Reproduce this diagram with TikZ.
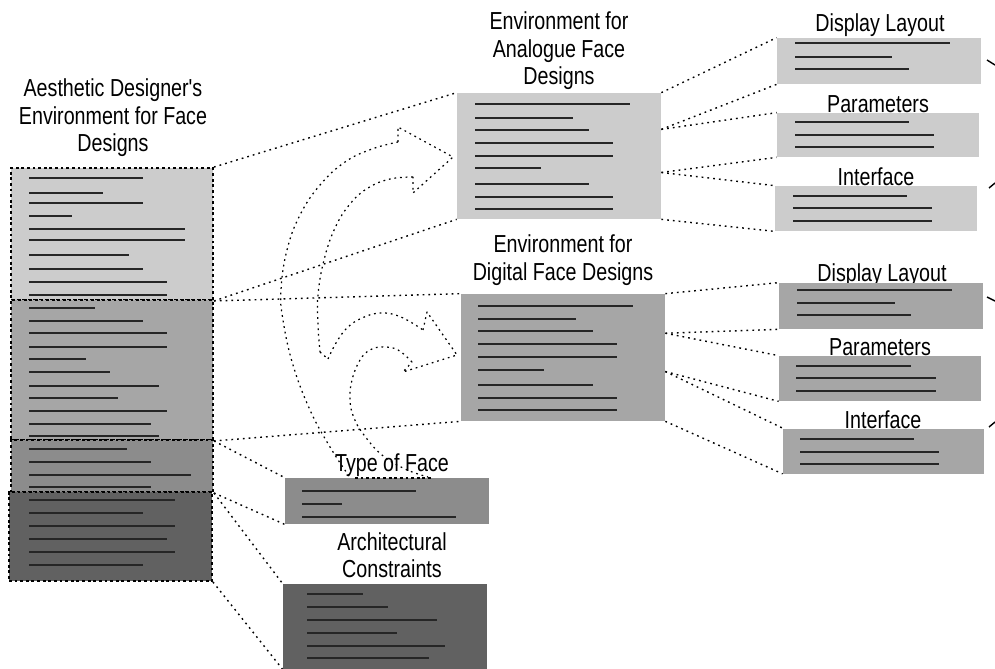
\documentclass[tikz,border=0pt]{standalone}
\usepackage{fontspec}
\setmainfont[FakeStretch=0.8]{Liberation Sans}
\newfontfamily\titlefont[FakeStretch=0.8]{Liberation Sans}
\usetikzlibrary{backgrounds,calc}
\definecolor{xlight}{RGB}{204,204,204}
\definecolor{xmid}{RGB}{166,166,166}
\definecolor{xdark}{RGB}{140,140,140}
\definecolor{xdeep}{RGB}{97,97,97}
\tikzset{
  panel/.style 2 args={rectangle, inner sep=0pt, minimum width=#1*0.02cm, minimum height=#2*0.02cm},
  sect/.style={draw, line width=1.1pt, dash pattern=on 1.6pt off 1.6pt},
  ttl/.style={align=center, inner sep=0pt, font=\titlefont\fontsize{14pt}{15.6pt}\selectfont},
  txt/.style={line width=0.9pt, black!85},
  link/.style={line width=0.8pt, dash pattern=on 1pt off 2.3pt},
  swoosh/.style={line width=0.7pt, dash pattern=on 1pt off 2.2pt, line join=round},
  base/.style={line width=1.1pt, dash pattern=on 1.6pt off 1.6pt},
}
\begin{document}
\begin{tikzpicture}[x=0.02cm, y=-0.02cm]
\useasboundingbox (0,0) rectangle (995,669);
% aesthetic designer's environment
\node[ttl] at (113,118) (lhead) {Aesthetic Designer's\\Environment for Face\\Designs};
\node[panel={202}{132}, sect, fill=xlight] at (112,234) (lef1) {};
\node[panel={202}{140}, sect, fill=xmid] at (112,370) (lef2) {};
\node[panel={202}{52}, sect, fill=xdark] at (112,466) (lef3) {};
\node[panel={203}{89}, sect, fill=xdeep] at (110.5,536.5) (lef4) {};
\foreach \y/\e in {178/143,193/103,203/143,216/72,229/185,240/185,255/129,269/143,282/167,295/167,
  308/95,321/143,333/167,347/167,359/86,372/110,386/159,398/118,411/167,424/151,436/159,
  449/127,462/151,475/191,487/151,500/175,513/143,526/175,539/167,552/175,565/143}
  \draw[txt] (29,\y) -- (\e,\y);
% the two environments
\node[ttl] at (559,51) (ahead) {Environment for\\Analogue Face\\Designs};
\node[panel={204}{126}, fill=xlight] at (559,156) (ana) {};
\foreach \y/\e in {104/630,118/573,130/589,143/613,156/613,168/541,184/589,197/613,209/613}
  \draw[txt] (475,\y) -- (\e,\y);
\node[ttl] at (563,260) (dhead) {Environment for\\Digital Face Designs};
\node[panel={204}{127}, fill=xmid] at (563,357.5) (dig) {};
\foreach \y/\e in {306/633,319/576,331/593,344/617,357/617,370/544,385/593,398/617,410/617}
  \draw[txt] (478,\y) -- (\e,\y);
% face type and constraints
\node[ttl] at (392,465) (thead) {Type of Face};
\node[panel={204}{46}, fill=xdark] at (387,501) (typ) {};
\foreach \y/\e in {491/416,504/342,517/456}
  \draw[txt] (302,\y) -- (\e,\y);
\node[ttl] at (392,555) (chead) {Architectural\\Constraints};
\node[panel={204}{85}, fill=xdeep] at (385,626.5) (arc) {};
\foreach \y/\e in {594/363,607/388,620/437,633/397,646/445,658/429}
  \draw[txt] (307,\y) -- (\e,\y);
% analogue parts
\node[ttl] at (880,25) (dl1head) {Display Layout};
\node[panel={204}{46}, fill=xlight] at (879,61) (dl1) {};
\node[ttl] at (878,104) (pa1head) {Parameters};
\node[panel={202}{44}, fill=xlight] at (878,135) (pa1) {};
\node[ttl] at (876,177) (in1head) {Interface};
\node[panel={202}{45}, fill=xlight] at (876,208.5) (in1) {};
\foreach \y/\e in {43/950,57/892,69/909,122/909,135/934,147/934}
  \draw[txt] (795,\y) -- (\e,\y);
\foreach \y/\e in {196/907,208/932,221/932}
  \draw[txt] (793,\y) -- (\e,\y);
% digital parts
\node[ttl] at (882,275) (dl2head) {Display Layout};
\node[panel={204}{46}, fill=xmid] at (881,306) (dl2) {};
\node[ttl] at (880,347) (pa2head) {Parameters};
\node[panel={202}{45}, fill=xmid] at (880,378.5) (pa2) {};
\node[ttl] at (883,420) (in2head) {Interface};
\node[panel={201}{45}, fill=xmid] at (883.5,451) (in2) {};
\foreach \y/\e in {290/952,303/895,315/911}
  \draw[txt] (797,\y) -- (\e,\y);
\foreach \y/\e in {366/911,378/936,391/936}
  \draw[txt] (796,\y) -- (\e,\y);
\foreach \y/\e in {439/914,452/939,464/939}
  \draw[txt] (800,\y) -- (\e,\y);
% connectors
\coordinate (a1) at ($(ana.north east)!.29!(ana.south east)$);
\coordinate (a2) at ($(ana.north east)!.63!(ana.south east)$);
\coordinate (d1) at ($(dig.north east)!.31!(dig.south east)$);
\coordinate (d2) at ($(dig.north east)!.61!(dig.south east)$);
\draw[link] (lef1.north east) -- (ana.north west);
\draw[link] (lef1.south east) -- (ana.south west);
\draw[link] (lef1.south east) -- (dig.north west);
\draw[link] (lef2.south east) -- (dig.south west);
\draw[link] (lef2.south east) -- (typ.north west);
\draw[link] (lef3.south east) -- (typ.south west);
\draw[link] (lef3.south east) -- (arc.north west);
\draw[link] (lef4.south east) -- (arc.south west);
\draw[link] (ana.north east) -- (dl1.north west);
\draw[link] (a1) -- (dl1.south west);
\draw[link] (a1) -- (pa1.north west);
\draw[link] (a2) -- (pa1.south west);
\draw[link] (a2) -- (in1.north west);
\draw[link] (ana.south east) -- (in1.south west);
\draw[link] (dig.north east) -- (dl2.north west);
\draw[link] (d1) -- (dl2.south west);
\draw[link] (d1) -- (pa2.north west);
\draw[link] (d2) -- (pa2.south west);
\draw[link] (d2) -- (in2.north west);
\draw[link] (dig.south east) -- (in2.south west);
% cut off strokes at the right edge
\coordinate (o1) at (995,65);
\coordinate (o2) at (995,183);
\coordinate (o3) at (995,301);
\coordinate (o4) at (995,422);
\draw[line width=0.8pt] (987,60) -- (o1);
\draw[line width=0.8pt] (989,188) -- (o2);
\draw[line width=0.8pt] (987,297) -- (o3);
\draw[line width=0.8pt] (989,427) -- (o4);
% curved arrows
\draw[swoosh] plot[smooth, tension=0.7] coordinates {(349,476) (330,447) (310,410) (293,365) (283,320) (281,290) (287,250) (300,215) (320,185) (345,162) (372,149) (398,142)};
\draw[swoosh] (398,142) -- (398,127) -- (453,157) -- (413,193) -- (413,177);
\draw[swoosh] plot[smooth, tension=0.7] coordinates {(413,177) (390,179) (368,188) (350,204) (335,228) (324,260) (318,295) (318,325) (320,352)};
\draw[swoosh] (320,352) -- (328,359);
\draw[swoosh] plot[smooth, tension=0.7] coordinates {(328,359) (336,343) (347,328) (362,318) (381,313) (401,317) (423,330)};
\draw[swoosh] (423,330) -- (427,312) -- (457,355) -- (403,372) -- (412,362);
\draw[swoosh] plot[smooth, tension=0.7] coordinates {(412,362) (398,350) (383,347) (370,350) (360,360) (352,380) (350,400) (354,418) (364,435) (382,455) (405,469) (428,477)};
\draw[base] (355,478) -- (433,478);
\end{tikzpicture}
\end{document}
